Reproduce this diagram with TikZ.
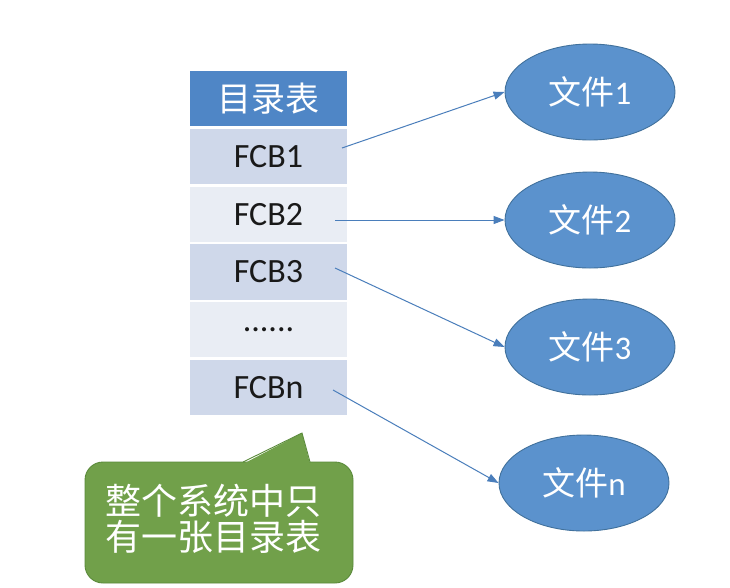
\documentclass[tikz,border=0pt]{standalone}
\usepackage{fontspec}
\setmainfont{Carlito}
\newfontfamily\cjk{Noto Sans CJK SC}
\usetikzlibrary{arrows.meta,shapes.geometric}
\definecolor{hdrblue}{HTML}{4F86C6}
\definecolor{rowdark}{HTML}{CFD8EA}
\definecolor{rowlight}{HTML}{E9EDF4}
\definecolor{ellfill}{HTML}{5B92CD}
\definecolor{elldraw}{HTML}{41719C}
\definecolor{arrowc}{HTML}{4A7EBB}
\definecolor{notefill}{HTML}{71A04A}
\definecolor{notedraw}{HTML}{5A8A3A}
\tikzset{
  cell/.style={draw=white, line width=2.5pt, minimum width=159pt, minimum height=57.7pt, inner sep=0pt, font=\fontsize{34}{36}\selectfont, text=black!90},
  hdr/.style={cell, fill=hdrblue, text=white, font=\cjk\fontsize{34}{36}\selectfont},
  filenode/.style={ellipse, draw=elldraw, line width=0.9pt, fill=ellfill, minimum width=170pt, minimum height=96pt, inner sep=0pt, text=white, font=\fontsize{33}{36}\selectfont},
  link/.style={draw=arrowc, line width=1pt, -{Triangle[length=11pt,width=8pt]}},
  note/.style={draw=notedraw, line width=0.9pt, fill=notefill, rounded corners=18pt, minimum width=268pt, minimum height=121pt, inner sep=0pt},
  notetext/.style={text=white, align=center, inner sep=0pt, font=\cjk\fontsize{36}{36}\selectfont}
}
\begin{document}
\begin{tikzpicture}[x=1pt,y=-1pt]
\useasboundingbox (0,0) rectangle (730,587);
\fill[white] (0,0) rectangle (730,587);
% table
\node[hdr] (h) at (268.5,98.8) {目录表};
\node[cell, fill=rowdark] (c1) at (268.5,156.5) {FCB1};
\node[cell, fill=rowlight] (c2) at (268.5,214.2) {FCB2};
\node[cell, fill=rowdark] (c3) at (268.5,271.9) {FCB3};
\node[cell, fill=rowlight] (c4) at (268.5,329.6) {......};
\node[cell, fill=rowdark] (cn) at (268.5,387.3) {FCBn};
% files
\node[filenode] (f1) at (590,92) {{\cjk 文件}1};
\node[filenode] (f2) at (590,220) {{\cjk 文件}2};
\node[filenode] (f3) at (590,347) {{\cjk 文件}3};
\node[filenode] (fn) at (584,483) {{\cjk 文件}n};
% link start points
\coordinate (s1) at (342,148);
\coordinate (s2) at (335,220);
\coordinate (s3) at (335,268);
\coordinate (sn) at (333,390);
\draw[link] (s1) -- (f1.west);
\draw[link] (s2) -- (f2.west);
\draw[link] (s3) -- (f3.west);
\draw[link] (sn) -- (fn.west);
% callout
\node[note] (nt) at (219,522.5) {};
\fill[notefill] (243,464) -- (302,433) -- (310,464) -- cycle;
\draw[notedraw, line width=0.9pt] (243,462) -- (302,433) -- (310,462);
\node[notetext] (ntx) at (213,519) {整个系统中只\\有一张目录表};
\end{tikzpicture}
\end{document}
